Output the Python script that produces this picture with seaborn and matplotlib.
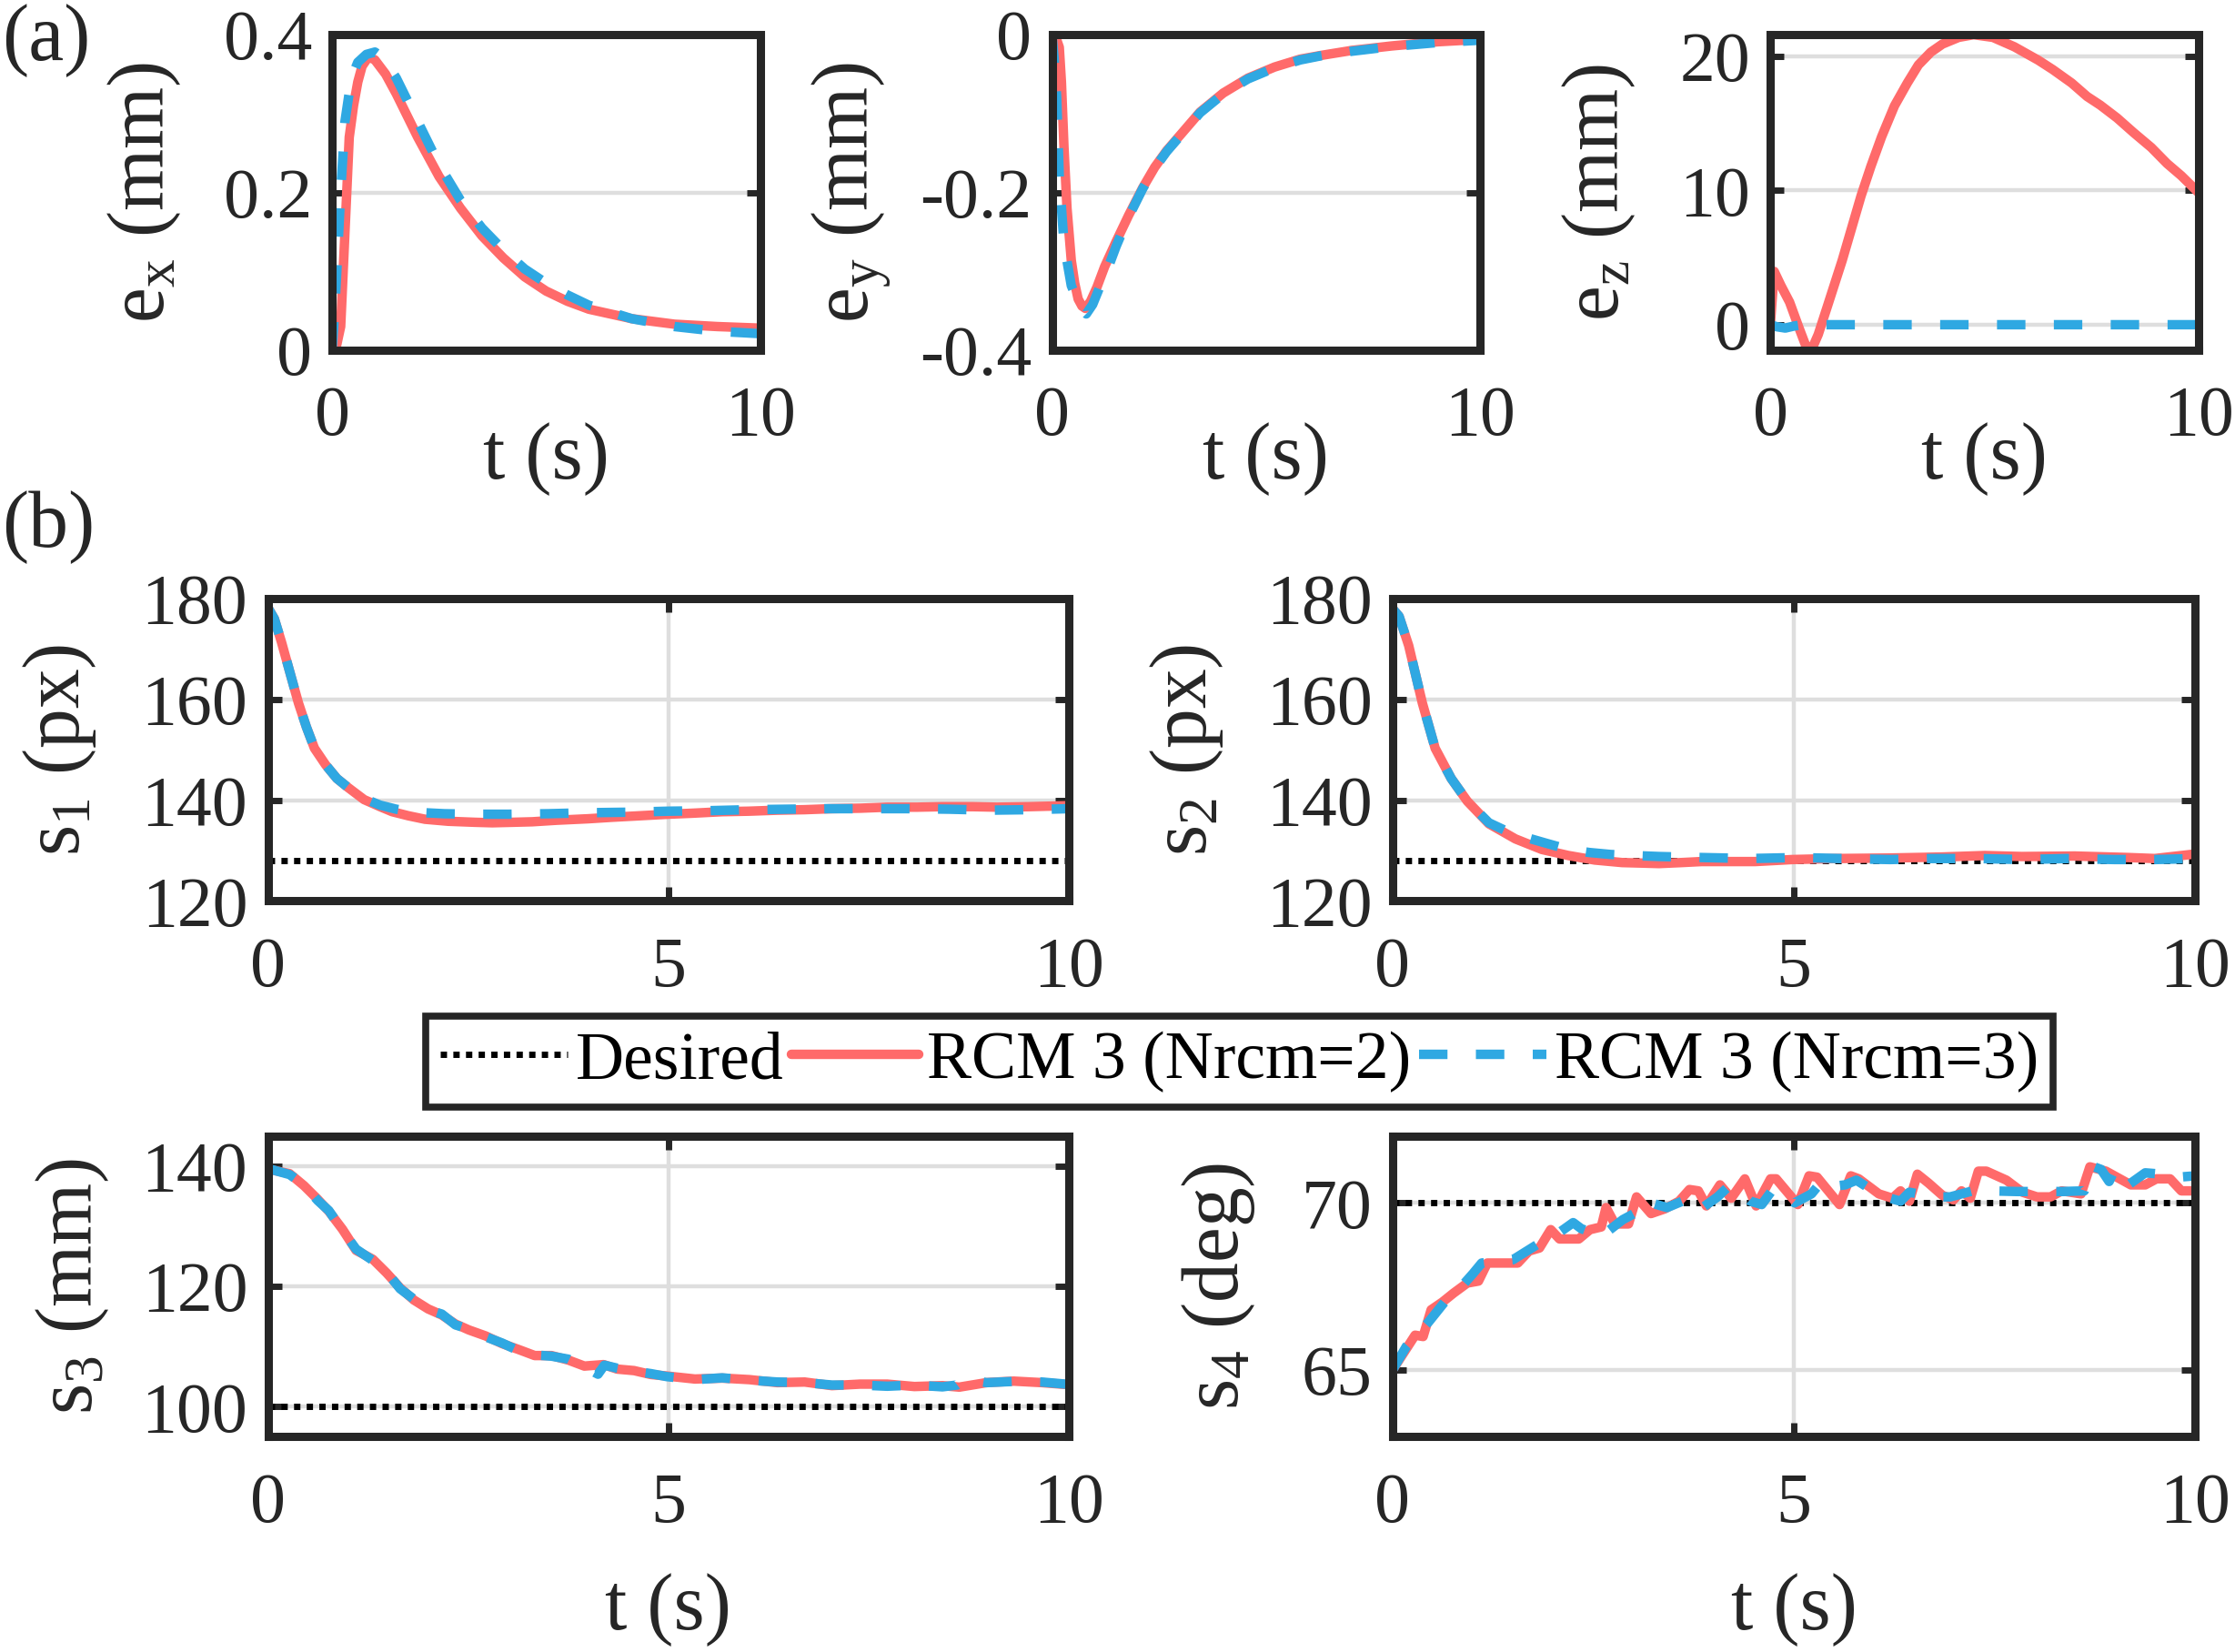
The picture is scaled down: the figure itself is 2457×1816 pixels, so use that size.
import numpy as np
import pandas as pd
import matplotlib.pyplot as plt
import seaborn as sns

# --- style ---
sns.set_style("ticks")
plt.rcParams['font.family'] = ['Liberation Serif', 'DejaVu Serif']
plt.rcParams['mathtext.fontset'] = 'custom'
plt.rcParams['mathtext.rm'] = 'Liberation Serif'
plt.rcParams['mathtext.it'] = 'Liberation Serif:italic'

RED = '#FF6A6A'
BLUE = '#2FA8E2'
DARK = '#262626'
GRID = '#DEDEDE'
DASH = (0, (3.0, 3.0))
DOT = (0, (1.0, 1.0))

# --- data ---
# (a) position errors
EX_T_RED = [0, 0.1, 0.2, 0.3, 0.4, 0.5, 0.6, 0.7, 0.85, 1.0, 1.25, 1.5, 2.0, 2.5, 3.0,
            3.5, 4.0, 4.5, 5.0, 5.5, 6.0, 7.0, 8.0, 9.0, 10.0]
EX_RED = [0, 0.005, 0.03, 0.15, 0.27, 0.31, 0.34, 0.36, 0.372, 0.368, 0.35, 0.325, 0.27,
          0.22, 0.18, 0.145, 0.117, 0.093, 0.075, 0.062, 0.052, 0.040, 0.033, 0.030, 0.028]
EX_T_BLUE = [0, 0.05, 0.1, 0.2, 0.3, 0.45, 0.6, 0.8, 1.0, 1.2, 1.5, 2.0, 2.5, 3.0, 3.5,
             4.0, 4.5, 5.0, 5.5, 6.0, 7.0, 8.0, 9.0, 10.0]
EX_BLUE = [0, 0.04, 0.09, 0.2, 0.29, 0.345, 0.365, 0.375, 0.378, 0.37, 0.345, 0.29, 0.235,
           0.19, 0.155, 0.127, 0.103, 0.085, 0.07, 0.057, 0.040, 0.030, 0.024, 0.021]

EY_T_RED = [0, 0.1, 0.17, 0.22, 0.28, 0.35, 0.45, 0.53, 0.61, 0.7, 0.78, 0.9, 1.05, 1.23,
            1.5, 1.79, 2.12, 2.4, 2.68, 3.0, 3.46, 4.0, 4.58, 5.2, 5.8, 6.26, 7.0, 7.93, 9.0, 10.0]
EY_RED = [0, -0.005, -0.016, -0.06, -0.143, -0.22, -0.286, -0.315, -0.335, -0.344, -0.347,
          -0.338, -0.32, -0.294, -0.262, -0.229, -0.194, -0.168, -0.147, -0.127, -0.098,
          -0.074, -0.055, -0.041, -0.031, -0.0265, -0.020, -0.0143, -0.009, -0.006]
EY_T_BLUE = [0, 0.05, 0.11, 0.17, 0.28, 0.45, 0.67, 0.8, 0.95, 1.1, 1.3, 1.5, 1.79, 2.12,
             2.4, 2.68, 3.0, 3.46, 4.0, 4.58, 5.2, 5.8, 6.26, 7.0, 7.93, 9.0, 10.0]
EY_BLUE = [0, -0.03, -0.08, -0.18, -0.265, -0.318, -0.347, -0.354, -0.342, -0.322, -0.297,
           -0.268, -0.231, -0.195, -0.169, -0.148, -0.128, -0.099, -0.075, -0.056, -0.042,
           -0.032, -0.027, -0.021, -0.015, -0.010, -0.007]

EZ_T_RED = [0, 0.09, 0.25, 0.45, 0.67, 0.87, 1.0, 1.12, 1.34, 1.68, 2.12, 2.35, 2.6, 2.9,
            3.2, 3.46, 3.75, 4.02, 4.4, 4.75, 5.2, 5.7, 6.26, 6.6, 7.04, 7.4, 7.71, 8.1,
            8.49, 8.9, 9.27, 9.6, 10.0]
EZ_RED = [0, 3.97, 2.9, 1.68, -0.24, -1.92, -1.6, -0.72, 1.44, 4.8, 9.6, 11.8, 14.0, 16.3,
          18.0, 19.35, 20.3, 20.9, 21.4, 21.6, 21.4, 20.7, 19.7, 19.0, 18.0, 17.0, 16.35,
          15.4, 14.3, 13.2, 12.0, 11.1, 9.85]
EZ_T_BLUE = [0, 0.15, 0.35, 0.55, 0.75, 10.0]
EZ_BLUE = [0, -0.15, -0.25, -0.1, 0, 0]

# (b) image features
S1_T_RED = [0, 0.08, 0.17, 0.28, 0.38, 0.48, 0.58, 0.72, 0.86, 1.0, 1.2, 1.4, 1.55, 1.75,
            1.96, 2.25, 2.58, 2.8, 3.06, 3.3, 3.6, 4.0, 4.3, 4.65, 5.0, 5.3, 5.67, 6.0,
            6.36, 6.7, 7.04, 7.4, 7.73, 8.1, 8.42, 8.8, 9.1, 9.5, 10.0]
S1_RED = [178.2, 176.0, 171.3, 165.0, 159.3, 154.5, 150.3, 147.0, 144.3, 142.5, 140.1,
          138.7, 137.7, 136.9, 136.2, 135.8, 135.6, 135.5, 135.6, 135.7, 136.0, 136.3,
          136.6, 136.9, 137.2, 137.4, 137.7, 137.8, 138.0, 138.1, 138.3, 138.4, 138.6,
          138.6, 138.7, 138.7, 138.6, 138.7, 138.9]
S1_T_BLUE = [0, 0.08, 0.17, 0.28, 0.38, 0.48, 0.58, 0.72, 0.86, 1.0, 1.2, 1.4, 1.6, 1.82,
             2.2, 2.6, 3.0, 3.5, 4.0, 4.5, 5.0, 5.5, 6.0, 6.5, 7.0, 7.5, 8.0, 8.5, 9.0, 9.5, 10.0]
S1_BLUE = [178.2, 176.0, 171.3, 165.0, 159.3, 154.5, 150.3, 147.0, 144.3, 142.5, 140.3,
           139.0, 138.2, 137.6, 137.3, 137.2, 137.2, 137.3, 137.5, 137.6, 137.8, 137.9,
           138.1, 138.2, 138.3, 138.3, 138.3, 138.2, 138.0, 138.1, 138.3]

S2_T_RED = [0, 0.08, 0.2, 0.37, 0.53, 0.73, 0.93, 1.2, 1.53, 1.86, 2.19, 2.52, 2.86, 3.1,
            3.32, 3.6, 3.85, 4.2, 4.52, 4.98, 5.51, 6.18, 6.84, 7.38, 7.84, 8.5, 9.17, 9.5, 10.0]
S2_RED = [178.0, 176.5, 170.7, 159.3, 150.3, 144.3, 139.8, 135.3, 132.3, 130.2, 129.0,
          128.1, 127.6, 127.5, 127.4, 127.6, 127.8, 127.8, 127.8, 128.2, 128.4, 128.5,
          128.7, 129.0, 128.8, 128.9, 128.6, 128.4, 129.3]
S2_T_BLUE = [0, 0.08, 0.2, 0.37, 0.53, 0.73, 0.93, 1.2, 1.4, 1.66, 1.9, 2.19, 2.45, 2.72,
             3.0, 3.32, 3.85, 4.45, 5.05, 5.58, 6.2, 6.7, 7.3, 7.85, 8.4, 9.0, 9.5, 10.0]
S2_BLUE = [178.0, 176.5, 170.7, 159.3, 150.3, 144.3, 139.8, 135.5, 134.0, 132.6, 131.5,
           130.2, 129.6, 129.2, 129.0, 128.8, 128.6, 128.4, 128.6, 128.4, 128.2, 128.4,
           128.4, 128.2, 128.4, 128.2, 128.2, 128.4]

S3_T_RED = [0, 0.27, 0.45, 0.62, 0.76, 0.93, 1.1, 1.31, 1.48, 1.65, 1.82, 2.0, 2.17, 2.34,
            2.51, 2.72, 2.92, 3.13, 3.33, 3.54, 3.75, 3.95, 4.19, 4.36, 4.57, 4.78, 4.98,
            5.33, 5.67, 6.01, 6.36, 6.7, 7.04, 7.39, 7.73, 8.07, 8.42, 8.63, 8.97, 9.31, 9.66, 10.0]
S3_RED = [139.5, 138.75, 136.75, 134.5, 132.5, 129.5, 126.0, 124.5, 122.25, 119.75, 117.75,
          116.25, 115.25, 113.75, 112.75, 111.75, 110.5, 109.5, 108.5, 108.5, 107.75, 106.75,
          107.0, 106.25, 106.0, 105.35, 105.1, 104.6, 104.75, 104.5, 104.0, 104.1, 103.5,
          103.75, 103.75, 103.35, 103.5, 103.25, 104.0, 104.25, 104.0, 103.65]
S3_T_BLUE = [0, 0.27, 0.45, 0.62, 0.76, 0.93, 1.1, 1.31, 1.48, 1.65, 1.82, 2.0, 2.17, 2.34,
             2.51, 2.72, 2.92, 3.13, 3.33, 3.54, 3.75, 3.95, 4.12, 4.2, 4.36, 4.57, 4.78,
             4.98, 5.33, 5.67, 6.01, 6.36, 6.7, 7.04, 7.39, 7.73, 8.07, 8.42, 8.6, 8.7,
             8.97, 9.31, 9.66, 10.0]
S3_BLUE = [139.6, 138.6, 136.9, 134.3, 132.6, 129.3, 126.2, 124.3, 122.4, 119.6, 117.9,
           116.1, 115.4, 113.6, 112.9, 111.6, 110.6, 109.3, 108.6, 108.4, 107.9, 106.6,
           105.4, 106.9, 106.4, 105.9, 105.5, 105.0, 104.5, 104.8, 104.4, 104.1, 104.0,
           103.6, 103.6, 103.4, 103.6, 103.3, 103.6, 104.6, 104.0, 104.2, 104.1, 103.7]

S4_T_RED = [0, 0.17, 0.28, 0.38, 0.48, 0.62, 0.76, 0.93, 1.07, 1.18, 1.56, 1.7, 1.83, 1.97,
            2.08, 2.32, 2.46, 2.6, 2.66, 2.77, 2.94, 3.04, 3.22, 3.39, 3.57, 3.7, 3.81, 3.91,
            4.08, 4.22, 4.39, 4.53, 4.71, 4.78, 5.05, 5.19, 5.29, 5.57, 5.71, 5.81, 6.06,
            6.23, 6.33, 6.44, 6.54, 6.68, 6.85, 6.99, 7.09, 7.2, 7.3, 7.4, 7.65, 7.85, 8.03,
            8.2, 8.34, 8.58, 8.69, 8.89, 9.2, 9.38, 9.52, 9.69, 9.83, 10.0]
S4_RED = [65.0, 65.63, 66.04, 66.0, 66.8, 67.03, 67.3, 67.6, 67.66, 68.2, 68.2, 68.56, 68.65,
          69.2, 68.92, 68.92, 69.2, 69.28, 69.86, 69.37, 69.37, 70.18, 69.68, 69.82, 70.05,
          70.4, 70.36, 69.91, 70.54, 70.14, 70.72, 69.91, 70.72, 70.72, 69.95, 70.81, 70.77,
          69.95, 70.81, 70.72, 70.27, 70.14, 70.36, 70.05, 70.86, 70.59, 70.23, 70.09, 70.36,
          70.14, 70.95, 70.95, 70.68, 70.32, 70.18, 70.18, 70.36, 70.27, 71.08, 70.95, 70.54,
          70.54, 70.72, 70.72, 70.36, 70.36]
S4_T_BLUE = [0, 0.17, 0.45, 0.66, 0.8, 1.0, 1.11, 1.5, 1.9, 2.04, 2.25, 2.35, 2.6, 2.87,
             3.08, 3.15, 3.29, 3.42, 3.56, 3.7, 3.84, 4.05, 4.19, 4.33, 4.46, 4.6, 4.74, 4.88,
             5.01, 5.22, 5.36, 5.5, 5.64, 5.78, 5.99, 6.2, 6.33, 6.44, 6.74, 6.95, 7.09,
             7.23, 7.44, 7.79, 8.06, 8.34, 8.62, 8.72, 8.83, 8.93, 9.0, 9.17, 9.38, 9.59, 9.79, 10.0]
S4_BLUE = [65.0, 65.7, 66.44, 67.07, 67.34, 67.88, 68.2, 68.3, 68.9, 69.05, 69.41, 69.23,
           69.0, 69.5, 69.77, 70.05, 69.95, 69.86, 70.0, 70.14, 69.82, 70.18, 70.5, 70.32,
           70.05, 69.95, 70.41, 70.27, 70.0, 70.27, 70.68, 70.5, 70.54, 70.68, 70.36, 70.14,
           70.05, 70.32, 70.18, 70.18, 70.27, 70.36, 70.36, 70.34, 70.34, 70.34, 70.36,
           71.1, 71.0, 70.64, 71.0, 70.54, 70.9, 70.86, 70.77, 70.81]

DESIRED = [128, 128, 100, 70]

TOP_YLABELS = [r'$\mathregular{e_x}$ (mm)', r'$\mathregular{e_y}$ (mm)', r'$\mathregular{e_z}$ (mm)']
TOP_YTICKS = [[0, 0.2, 0.4], [-0.4, -0.2, 0], [0, 10, 20]]
TOP_YTICKLABELS = [['0', '0.2', '0.4'], ['-0.4', '-0.2', '0'], ['0', '10', '20']]
TOP_YLIMS = [(0, 0.4), (-0.4, 0), (-1.9, 21.6)]

B_YLABELS = [r'$\mathregular{s_1}$ (px)', r'$\mathregular{s_2}$ (px)',
             r'$\mathregular{s_3}$ (mm)', r'$\mathregular{s_4}$ (deg)']
B_YTICKS = [[120, 140, 160, 180], [120, 140, 160, 180], [100, 120, 140], [65, 70]]
B_YLIMS = [(120, 180), (120, 180), (95, 145), (63, 72)]

TICK_FS = 56
LABEL_FS = 63


def style_axes(ax, xticks, yticks, xlim, ylim):
    ax.set_xlim(xlim)
    ax.set_ylim(ylim)
    ax.set_xticks(xticks)
    ax.set_yticks(yticks)
    ax.grid(True, color=GRID, lw=3.2)
    ax.set_axisbelow(True)
    for s in ax.spines.values():
        s.set_visible(True)
        s.set_linewidth(6.5)
        s.set_color(DARK)
    ax.tick_params(direction='in', length=11, width=5, color=DARK,
                   labelsize=TICK_FS, labelcolor=DARK, top=True, right=True)
    ax.tick_params(axis='y', pad=16)
    ax.tick_params(axis='x', pad=28)


def draw_pair(ax, t_red, y_red, t_blue, y_blue, desired=None):
    if desired is not None:
        ax.axhline(desired, color='black', lw=5, ls=DOT, label='Desired')
    sns.lineplot(x=t_red, y=y_red, ax=ax, color=RED, lw=7.5, estimator=None, sort=False,
                 label='RCM 3 (Nrcm=2)')
    sns.lineplot(x=t_blue, y=y_blue, ax=ax, color=BLUE, lw=7.5, ls=DASH, estimator=None,
                 sort=False, label='RCM 3 (Nrcm=3)')
    leg = ax.get_legend()
    if leg is not None:
        leg.remove()


fig = plt.figure(figsize=(24.57, 18.16), dpi=100)

# (a) row
top_lefts = [0.1486, 0.4707, 0.7921]
top_data = [(EX_T_RED, EX_RED, EX_T_BLUE, EX_BLUE),
            (EY_T_RED, EY_RED, EY_T_BLUE, EY_BLUE),
            (EZ_T_RED, EZ_RED, EZ_T_BLUE, EZ_BLUE)]
top_ylab_x = [-0.44, -0.47, -0.40]
for i in range(3):
    ax = fig.add_axes([top_lefts[i], 0.788, 0.1915, 0.191])
    draw_pair(ax, *top_data[i])
    style_axes(ax, [0, 10], TOP_YTICKS[i], (0, 10), TOP_YLIMS[i])
    ax.set_yticklabels(TOP_YTICKLABELS[i])
    ax.set_xticklabels(['0', '10'])
    ax.set_xlabel('t (s)', fontsize=LABEL_FS, color=DARK)
    ax.xaxis.label.set_va('center')
    ax.xaxis.set_label_coords(0.5, -0.345)
    ax.set_ylabel(TOP_YLABELS[i], fontsize=LABEL_FS, color=DARK)
    ax.yaxis.label.set_va('center')
    ax.yaxis.set_label_coords(top_ylab_x[i], 0.5)

# (b) grid
b_pos = [[0.1199, 0.4547, 0.3584, 0.1829], [0.6231, 0.4547, 0.359, 0.1829],
         [0.1199, 0.1303, 0.3584, 0.182], [0.6231, 0.1303, 0.359, 0.182]]
b_data = [(S1_T_RED, S1_RED, S1_T_BLUE, S1_BLUE),
          (S2_T_RED, S2_RED, S2_T_BLUE, S2_BLUE),
          (S3_T_RED, S3_RED, S3_T_BLUE, S3_BLUE),
          (S4_T_RED, S4_RED, S4_T_BLUE, S4_BLUE)]
b_ylab_x = [-0.26, -0.257, -0.244, -0.217]
b_axes = []
for i in range(4):
    ax = fig.add_axes(b_pos[i])
    draw_pair(ax, *b_data[i], desired=DESIRED[i])
    style_axes(ax, [0, 5, 10], B_YTICKS[i], (0, 10), B_YLIMS[i])
    ax.set_ylabel(B_YLABELS[i], fontsize=LABEL_FS, color=DARK)
    ax.yaxis.label.set_va('center')
    ax.yaxis.set_label_coords(b_ylab_x[i], 0.5)
    if i >= 2:
        ax.set_xlabel('t (s)', fontsize=LABEL_FS, color=DARK)
        ax.xaxis.label.set_va('center')
        ax.xaxis.set_label_coords(0.5, -0.574)
    else:
        ax.set_xlabel('')
    b_axes.append(ax)

handles, labels = b_axes[0].get_legend_handles_labels()
leg = fig.legend(handles, labels, loc='center', bbox_to_anchor=(0.5545, 0.3572), ncol=3,
                 fontsize=53, frameon=True, fancybox=False, edgecolor=DARK, framealpha=1,
                 handlelength=1.9, handletextpad=0.12, columnspacing=0.12,
                 borderpad=0.22, borderaxespad=0)
leg.get_frame().set_linewidth(5.5)
for txt in leg.get_texts():
    txt.set_color('black')

fig.text(0.001, 0.998, '(a)', fontsize=LABEL_FS, va='top', ha='left', color=DARK)
fig.text(0.001, 0.703, '(b)', fontsize=LABEL_FS, va='top', ha='left', color=DARK)

fig.savefig('out.png', dpi=100)
